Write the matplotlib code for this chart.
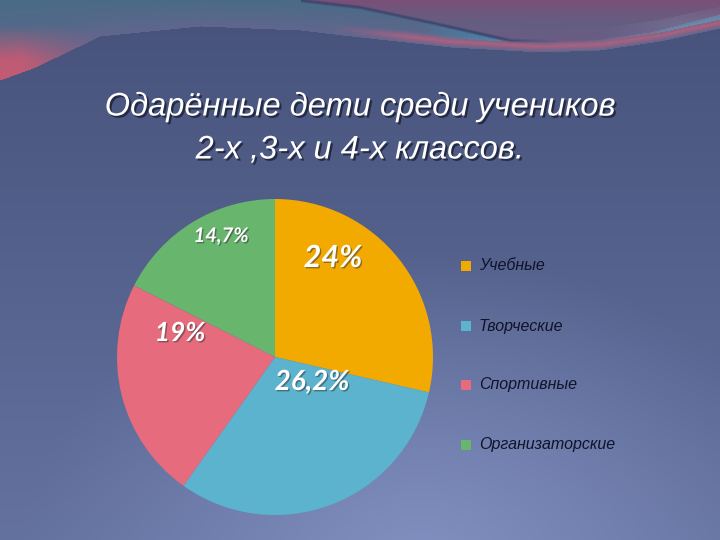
import numpy as np
import matplotlib
matplotlib.use("Agg")
import matplotlib.pyplot as plt
import matplotlib.patheffects as pe

# ---- data ----
categories = ["Учебные", "Творческие", "Спортивные", "Организаторские"]
values = [24.0, 26.2, 19.0, 14.7]
labels = ["24%", "26,2%", "19%", "14,7%"]
colors = ["#F2AA00", "#5BB3CE", "#E66B7C", "#68B56E"]
title = "Одарённые дети среди учеников\n2-х ,3-х и 4-х классов."

W, H = 720, 540
fig = plt.figure(figsize=(7.2, 5.4), dpi=100)

def c(h):
    h = h.lstrip("#")
    return np.array([int(h[i:i + 2], 16) for i in (0, 2, 4)]) / 255

def blend(img, col, w):
    w = np.clip(w, 0, 1)[..., None]
    return img * (1 - w) + col * w

# ---- background image ----
yy, xx = np.mgrid[0:H, 0:W].astype(float)
t = (yy / H)[..., None]
img = c("#46527A") * (1 - t) + c("#6472A0") * t
d = np.sqrt(((xx - 420) / 400) ** 2 + ((yy - 570) / 320) ** 2)
img = blend(img, c("#8391C2"), np.clip(1 - d, 0, 1) ** 1.1)

def interp(px, py):
    return np.interp(np.arange(W), px, py)[None, :]

# curve A (lower edge of the top band)
yA = interp([0, 33, 100, 200, 300, 360, 450, 540, 600, 660, 720],
            [80, 68, 36, 26, 30, 37, 47, 52, 50, 41, 28])
above = (yy < yA).astype(float)
tb = np.clip(yy / np.maximum(yA, 1), 0, 1)[..., None]
bandcol = c("#4A6B86") * (1 - tb) + c("#60668E") * tb
img = img * (1 - above[..., None]) + bandcol * above[..., None]
# left pink region
wl = above * np.clip((110 - xx) / 90, 0, 1) * np.clip((yy - 25) / 35, 0, 1)
img = blend(img, c("#CC5A72"), wl * 0.9)
# pink stripe along right part of curve A
dist = yA - yy
wp = np.clip(1 - np.abs(dist - 6) / 6, 0, 1) * np.clip((xx - 330) / 80, 0, 1)
img = blend(img, c("#B8607E"), wp * 0.85)
# dark line B and regions
yB = interp([300, 360, 430, 510, 580, 650, 720], [0, 7, 22, 40, 42, 32, 14])
mT = (yy > yB + 2) & (yy < yA - 9) & (xx > 360)
wt = mT * np.clip((xx - 420) / 100, 0, 1) * np.clip(1 - (xx - 620) / 150, 0.35, 1)
img = blend(img, c("#3797B6"), wt * 0.8)
mLB = (yy > yA - 22) & (yy < yA - 9)
img = blend(img, c("#7595B5"), mLB * np.clip((xx - 600) / 80, 0, 1) * 0.6)
mR = (yy < yB) & (xx > 300)
img = blend(img, c("#7A5077"), mR * np.clip(1 - yy / 40, 0.45, 1))
wd = np.clip(1 - np.abs(yy - yB) / 2.5, 0, 1) * (xx > 300) * np.clip((560 - xx) / 60, 0, 1)
img = blend(img, c("#33406A"), wd * 0.85)

bg = fig.add_axes([0, 0, 1, 1])
bg.imshow(np.clip(img, 0, 1), extent=[0, W, H, 0], aspect="auto", interpolation="bilinear")
bg.set_xlim(0, W)
bg.set_ylim(H, 0)
bg.axis("off")

# ---- pie ----
cx, cy, r = 275, 357, 158
ax = fig.add_axes([(cx - r) / W, (H - cy - r) / H, 2 * r / W, 2 * r / H])
wedges, _ = ax.pie(values, colors=colors, startangle=90, counterclock=False,
                   wedgeprops=dict(linewidth=0))
ax.set_xlim(-1, 1)
ax.set_ylim(-1, 1)
ax.set_aspect("equal")

# ---- title ----
shadow = [pe.withSimplePatchShadow(offset=(1.5, -1.5), shadow_rgbFace="#1a1f33", alpha=0.8)]
fig.text(360 / W, 1 - 128 / H, title, ha="center", va="center", color="white",
         fontsize=23.5, fontstyle="italic", family="Liberation Sans",
         linespacing=1.5, path_effects=shadow)

# ---- data labels ----
label_pos = [(333, 258), (312, 382), (180, 333), (221, 236)]
label_size = [22, 20, 19, 14.5]
for lab, (px, py), fs in zip(labels, label_pos, label_size):
    fig.text(px / W, 1 - py / H, lab, ha="center", va="center", color="white", fontsize=fs,
             fontstyle="italic", fontweight="bold", family="Lato",
             path_effects=[pe.withSimplePatchShadow(offset=(1, -1), shadow_rgbFace="#333333", alpha=0.5)])

# ---- legend ----
leg_y = [266, 326, 385, 445]
for cat, col, ly in zip(categories, colors, leg_y):
    bg.add_patch(plt.Rectangle((461, ly - 5), 10, 10, color=col, lw=0))
    bg.text(479, ly, cat, ha="left", va="center", color="#10142a", fontsize=11.5,
            fontstyle="italic", family="Liberation Sans")

fig.savefig("out.png", dpi=100)
